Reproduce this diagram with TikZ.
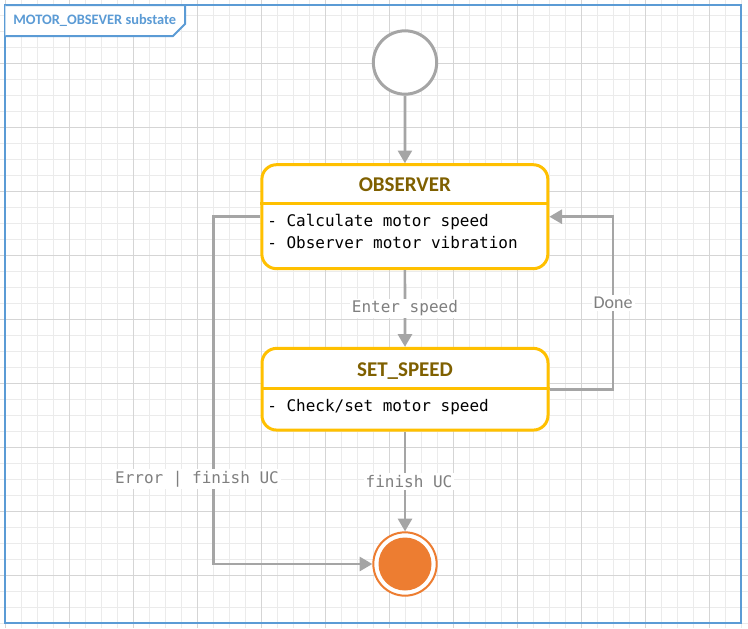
\documentclass[tikz,border=0pt]{standalone}
\usepackage{fontspec}
\setmainfont{Carlito}
\setmonofont{DejaVu Sans Mono}
\usetikzlibrary{arrows.meta}
\definecolor{gridmin}{HTML}{EBEBEB}
\definecolor{gridmaj}{HTML}{D5D5D5}
\definecolor{frameblue}{HTML}{5B9BD5}
\definecolor{stateyel}{HTML}{FFC000}
\definecolor{titlebrown}{HTML}{7F6000}
\definecolor{conngray}{HTML}{A5A5A5}
\definecolor{lblgray}{HTML}{7F7F7F}
\definecolor{finorange}{HTML}{ED7D31}

\begin{document}
\begin{tikzpicture}[x=0.75pt, y=-0.75pt,
    state/.style={draw=stateyel, line width=2.25pt, rounded corners=11pt, fill=white, minimum width=214.5pt},
    divider/.style={draw=stateyel, line width=2.25pt},
    sttitle/.style={text=titlebrown, font=\fontsize{15.75}{18}\selectfont\bfseries, anchor=base, inner sep=0},
    stbody/.style={font=\fontsize{12}{16.5}\selectfont\ttfamily, anchor=base west, inner sep=0},
    conn/.style={draw=conngray, line width=2pt, -{Triangle[length=9.5pt, width=10.5pt]}},
    lbl/.style={fill=white, text=lblgray, font=\fontsize{12}{14}\selectfont\ttfamily, inner sep=1.5pt},
    lblsans/.style={fill=white, text=lblgray, font=\fontsize{13.5}{15}\selectfont, inner sep=1.5pt}]
  \useasboundingbox (0,0) rectangle (748,628);
  \foreach \gx in {0,...,46} \draw[gridmin, line width=0.75pt] ({5.3+16*\gx},0) -- ({5.3+16*\gx},628);
  \foreach \gy in {-1,...,38} \draw[gridmin, line width=0.75pt] (0,{15.5+16*\gy}) -- (748,{15.5+16*\gy});
  \foreach \gx in {0,...,11} \draw[gridmaj, line width=0.75pt] ({5.3+64*\gx},0) -- ({5.3+64*\gx},628);
  \foreach \gy in {0,...,9} \draw[gridmaj, line width=0.75pt] (0,{-0.5+64*\gy}) -- (748,{-0.5+64*\gy});

  \draw[frameblue, line width=1.5pt] (5.3,5) rectangle (741.3,623.3);
  \draw[frameblue, line width=1.5pt, fill=white] (5.3,5) -- (185,5) -- (185,24) -- (173,36) -- (5.3,36);
  \node[text=frameblue, font=\fontsize{10.8}{12}\selectfont\bfseries, anchor=base west, inner sep=0] (framelbl) at (13,24) {MOTOR\_OBSEVER substate};

  \node[draw=conngray, line width=2.25pt, circle, minimum size=47.5pt, inner sep=0, fill=white] (init) at (405,62.5) {};

  \node[state, minimum height=78pt] (obs) at (404.85,216.7) {};
  \draw[divider] (obs.west |- 0,203.3) -- (obs.east |- 0,203.3);
  \node[sttitle] (obstitle) at (404.85,191) {OBSERVER};
  \node[stbody] (obsbody1) at (267,226.7) {- Calculate motor speed};
  \node[stbody] (obsbody2) at (267,248.7) {- Observer motor vibration};

  \node[state, minimum height=61.3pt] (set) at (405,389.2) {};
  \draw[divider] (set.west |- 0,388.3) -- (set.east |- 0,388.3);
  \node[sttitle] (settitle) at (405,376) {SET\_SPEED};
  \node[stbody] (setbody) at (267,411) {- Check/set motor speed};

  \node[draw=finorange, line width=1.5pt, circle, minimum size=47.5pt, inner sep=0, fill=white] (fin) at (405,564) {};
  \fill[finorange] (fin.center) circle (26.5);

  \draw[conn] (init) -- (obs);
  \draw[conn] (obs) -- node[lbl] (enterlbl) {Enter speed} (set);
  \draw[conn] (set) -- node[lbl, xshift=3pt] (finlbl) {finish UC} (fin);
  \draw[conn] (obs.west) -- ++(-47,0) |- (fin.west);
  \draw[conn] (set.east) -- ++(63.5,0) |- node[pos=0.25, lblsans] (donelbl) {Done} (obs.east);
  \node[lbl] (errlbl) at (197,479) {Error | finish UC};
\end{tikzpicture}
\end{document}
